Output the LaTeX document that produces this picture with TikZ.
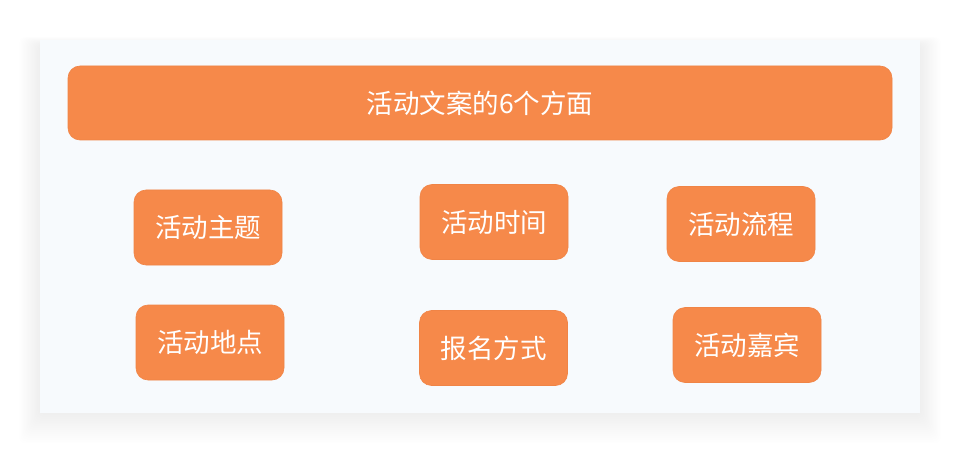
\documentclass[tikz,border=0pt]{standalone}
\usepackage{fontspec}
\newfontfamily\cjk{Noto Sans CJK SC}
\definecolor{orng}{RGB}{246,137,74}
\definecolor{orngedge}{RGB}{240,132,70}
\definecolor{panelbg}{RGB}{247,250,253}
\tikzset{
  itembox/.style={fill=orng, draw=orngedge, line width=0.6pt, rounded corners=12pt,
    minimum width=148pt, minimum height=75pt, inner sep=0pt,
    text=white, font=\cjk\fontsize{26.5}{26.5}\selectfont},
  titlebox/.style={itembox, minimum width=824pt, minimum height=74pt}
}
\begin{document}
\begin{tikzpicture}[x=1pt,y=-1pt]
\useasboundingbox (0,0) rectangle (960,454);
\fill[white] (0,0) rectangle (960,454);
% soft shadow
\foreach \i in {1,...,16}{
  \fill[black, opacity=0.0055, rounded corners=6pt]
    ({40-\i*1.3},{40-\i*0.5+5}) rectangle ({920+\i*1.3},{413+\i*1.9});
}
% panel
\fill[panelbg] (40,40) rectangle (920,413);
% nodes
\node[titlebox] (title) at (480,103) {活动文案的6个方面};
\node[itembox] (theme) at (208,227.5) {活动主题};
\node[itembox] (time) at (494,222) {活动时间};
\node[itembox] (flow) at (741,224) {活动流程};
\node[itembox] (place) at (210,342.5) {活动地点};
\node[itembox] (signup) at (493.5,348) {报名方式};
\node[itembox] (guest) at (747,345) {活动嘉宾};
\end{tikzpicture}
\end{document}
